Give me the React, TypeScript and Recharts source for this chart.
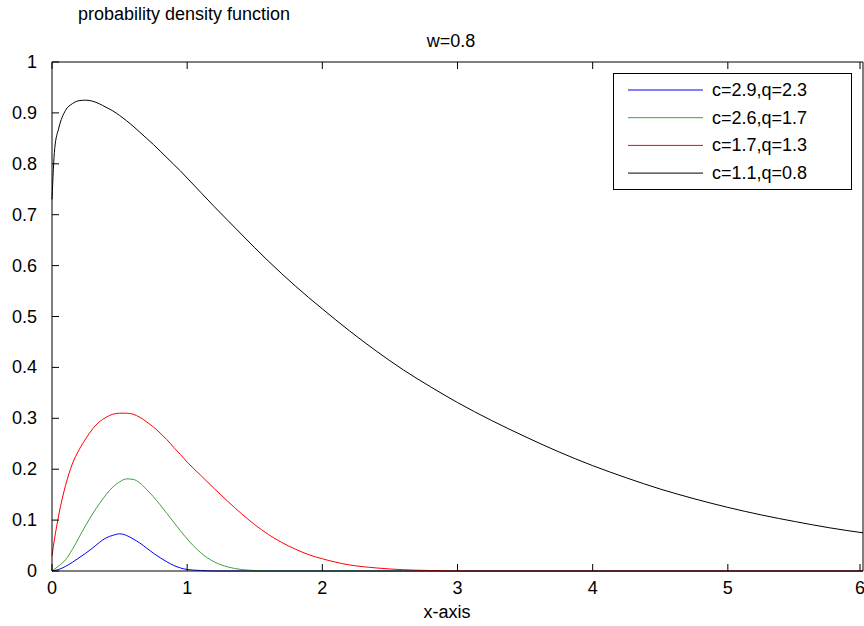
import React from 'react'
import { LineChart, Line, XAxis, YAxis, Legend } from 'recharts'

const xs = [
  0, 0.02, 0.05, 0.1, 0.15, 0.2, 0.25, 0.3, 0.35, 0.4, 0.45, 0.5, 0.55, 0.6, 0.65, 0.7, 0.75, 0.8, 0.85, 0.9,
  0.95, 1.0, 1.1, 1.2, 1.3, 1.4, 1.5, 1.6, 1.7, 1.8, 1.9, 2.0, 2.2, 2.4, 2.6, 2.8, 3.0, 3.25, 3.5, 3.75, 4.0,
  4.25, 4.5, 4.75, 5.0, 5.25, 5.5, 5.75, 6.0,
]

const blueVals = [
  0, 0.001, 0.003, 0.009, 0.017, 0.026, 0.035, 0.045, 0.056, 0.065, 0.07, 0.073, 0.07, 0.063, 0.055, 0.045,
  0.035, 0.026, 0.018, 0.011, 0.006, 0.003, 0.001, 0, 0, 0, 0, 0, 0, 0, 0, 0, 0, 0, 0, 0, 0, 0, 0, 0, 0, 0, 0,
  0, 0, 0, 0, 0, 0,
]

const greenVals = [
  0, 0.004, 0.01, 0.022, 0.042, 0.066, 0.09, 0.112, 0.132, 0.15, 0.165, 0.175, 0.181, 0.18, 0.173, 0.16,
  0.146, 0.13, 0.113, 0.096, 0.079, 0.063, 0.036, 0.018, 0.008, 0.003, 0.001, 0, 0, 0, 0, 0, 0, 0, 0, 0, 0,
  0, 0, 0, 0, 0, 0, 0, 0, 0, 0, 0, 0,
]

const redVals = [
  0.03, 0.065, 0.11, 0.168, 0.21, 0.238, 0.26, 0.279, 0.293, 0.302, 0.308, 0.31, 0.31, 0.308, 0.302, 0.293,
  0.283, 0.271, 0.258, 0.243, 0.229, 0.214, 0.188, 0.162, 0.137, 0.113, 0.091, 0.072, 0.056, 0.043, 0.032,
  0.024, 0.012, 0.006, 0.0025, 0.001, 0, 0, 0, 0, 0, 0, 0, 0, 0, 0, 0, 0, 0,
]

const blackVals = [
  0.73, 0.83, 0.87, 0.905, 0.918, 0.924, 0.925, 0.923, 0.918, 0.911, 0.904, 0.895, 0.885, 0.874, 0.862,
  0.85, 0.838, 0.825, 0.812, 0.799, 0.786, 0.772, 0.744, 0.716, 0.689, 0.662, 0.635, 0.609, 0.584, 0.56,
  0.537, 0.515, 0.472, 0.432, 0.395, 0.362, 0.331, 0.296, 0.264, 0.234, 0.207, 0.183, 0.161, 0.142, 0.125,
  0.11, 0.097, 0.085, 0.075,
]

const xTicks = [0, 1, 2, 3, 4, 5, 6]
const yTicks = [0, 0.1, 0.2, 0.3, 0.4, 0.5, 0.6, 0.7, 0.8, 0.9, 1]

const series = [
  { key: 'blue', name: 'c=2.9,q=2.3', color: '#0000ff' },
  { key: 'green', name: 'c=2.6,q=1.7', color: '#3f9f3f' },
  { key: 'red', name: 'c=1.7,q=1.3', color: '#ff0000' },
  { key: 'black', name: 'c=1.1,q=0.8', color: '#000000' },
]

const data = xs.map((x, i) => ({
  x,
  blue: blueVals[i],
  green: greenVals[i],
  red: redVals[i],
  black: blackVals[i],
}))

const FONT = '"Liberation Sans", Arial, Helvetica, sans-serif'
const FS = 18
const TICK = 7

const BottomTick = ({ x, y, payload }: any) => (
  <g>
    <line x1={x} x2={x} y1={y} y2={y - TICK} stroke="#000" />
    <text x={x} y={y + 23} textAnchor="middle" fontFamily={FONT} fontSize={FS} fill="#000">
      {payload.value}
    </text>
  </g>
)

const TopTick = ({ x, y }: any) => <line x1={x} x2={x} y1={y} y2={y + TICK} stroke="#000" />

const LeftTick = ({ x, y, payload }: any) => (
  <g>
    <line x1={x} x2={x + TICK} y1={y} y2={y} stroke="#000" />
    <text x={37} y={y + 6} textAnchor="end" fontFamily={FONT} fontSize={FS} fill="#000">
      {payload.value}
    </text>
  </g>
)

const RightTick = ({ x, y }: any) => <line x1={x} x2={x - TICK} y1={y} y2={y} stroke="#000" />

const LegendBox = () => (
  <svg width={240} height={118} style={{ display: 'block' }}>
    <rect x={0.5} y={0.5} width={238} height={116} fill="#fff" stroke="#000" />
    {series.map((s, i) => (
      <g key={s.key}>
        <line x1={15} x2={90} y1={17 + i * 27.7} y2={17 + i * 27.7} stroke={s.color} />
        <text x={99} y={23 + i * 27.7} fontFamily={FONT} fontSize={FS} fill="#000">
          {s.name}
        </text>
      </g>
    ))}
  </svg>
)

export default function App() {
  return (
    <div style={{ position: 'absolute', left: 0, top: 0, background: '#fff' }}>
      <LineChart width={864} height={626} data={data} margin={{ top: 61, right: 0, bottom: 0, left: 0 }}>
        <XAxis
          dataKey="x"
          type="number"
          domain={[0, 6]}
          ticks={xTicks}
          tickSize={0}
          tickMargin={0}
          tickLine={false}
          height={55}
          stroke="#000"
          tick={<BottomTick />}
          label={{
            content: () => (
              <text x={447} y={618} textAnchor="middle" fontFamily={FONT} fontSize={FS} fill="#000">
                x-axis
              </text>
            ),
          }}
        />
        <XAxis
          xAxisId="top"
          orientation="top"
          dataKey="x"
          type="number"
          domain={[0, 6]}
          ticks={xTicks}
          tickSize={0}
          tickMargin={0}
          tickLine={false}
          height={1}
          stroke="#000"
          tick={<TopTick />}
          label={{
            content: () => (
              <g>
                <text x={78} y={20} fontFamily={FONT} fontSize={FS} fill="#000">
                  probability density function
                </text>
                <text x={451} y={47} textAnchor="middle" fontFamily={FONT} fontSize={FS} fill="#000">
                  w=0.8
                </text>
              </g>
            ),
          }}
        />
        <YAxis
          type="number"
          domain={[0, 1]}
          ticks={yTicks}
          tickSize={0}
          tickMargin={0}
          tickLine={false}
          width={52}
          stroke="#000"
          tick={<LeftTick />}
        />
        <YAxis
          yAxisId="right"
          orientation="right"
          type="number"
          domain={[0, 1]}
          ticks={yTicks}
          tickSize={0}
          tickMargin={0}
          tickLine={false}
          width={1}
          stroke="#000"
          tick={<RightTick />}
        />
        <Legend
          content={() => <LegendBox />}
          layout="horizontal"
          verticalAlign="middle"
          align="center"
          wrapperStyle={{ position: 'absolute', left: 613, top: 73, width: 240, height: 118 }}
        />
        {series.map((s) => (
          <Line
            key={s.key}
            dataKey={s.key}
            name={s.name}
            type="monotone"
            stroke={s.color}
            strokeWidth={1}
            dot={false}
            activeDot={false}
            isAnimationActive={false}
          />
        ))}
      </LineChart>
    </div>
  )
}
